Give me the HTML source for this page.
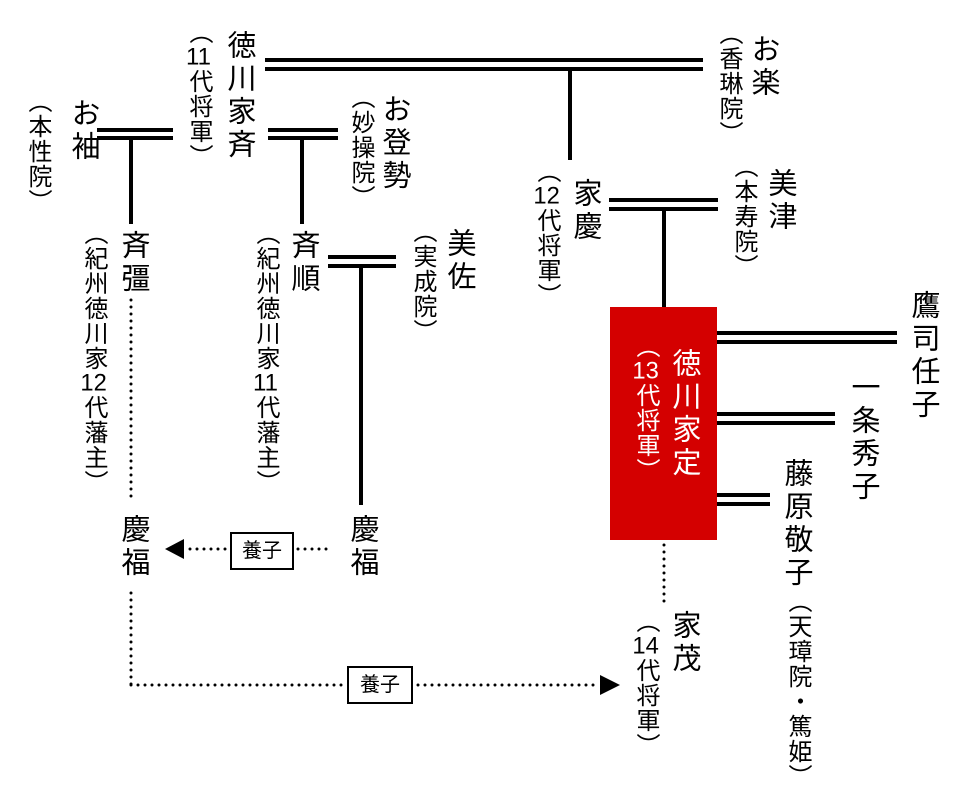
<!DOCTYPE html>
<html><head><meta charset="utf-8"><style>
html,body{margin:0;padding:0;background:#fff;}
#c{position:relative;width:960px;height:800px;overflow:hidden;font-family:"Liberation Sans","Noto Sans CJK JP",sans-serif;color:#000;}
.v{position:absolute;writing-mode:vertical-rl;line-height:1;white-space:nowrap;}
.n{font-size:29px;letter-spacing:4px;}
.s{font-size:24px;letter-spacing:1px;}
.w{color:#fff;}
.t{text-combine-upright:all;}
.box{position:absolute;border:2px solid #000;background:#fff;font-size:20px;line-height:1;display:flex;align-items:center;justify-content:center;font-family:"Liberation Sans","Noto Sans CJK JP",sans-serif;}
svg{position:absolute;left:0;top:0;}
</style></head><body><div id="c">
<svg width="960" height="800">
<g stroke="#000" stroke-width="4" fill="none">
<line x1="265" y1="60" x2="703" y2="60"/><line x1="265" y1="69" x2="703" y2="69"/>
<line x1="570" y1="69" x2="570" y2="160"/>
<line x1="97" y1="130" x2="173" y2="130"/><line x1="97" y1="138" x2="173" y2="138"/>
<line x1="131" y1="138" x2="131" y2="224"/>
<line x1="268" y1="130" x2="338" y2="130"/><line x1="268" y1="138" x2="338" y2="138"/>
<line x1="302" y1="138" x2="302" y2="224"/>
<line x1="328" y1="257" x2="396" y2="257"/><line x1="328" y1="266" x2="396" y2="266"/>
<line x1="361" y1="266" x2="361" y2="505"/>
<line x1="609" y1="200" x2="718" y2="200"/><line x1="609" y1="209" x2="718" y2="209"/>
<line x1="664" y1="209" x2="664" y2="307"/>
<line x1="717" y1="333" x2="897" y2="333"/><line x1="717" y1="342" x2="897" y2="342"/>
<line x1="717" y1="414" x2="835" y2="414"/><line x1="717" y1="423" x2="835" y2="423"/>
<line x1="717" y1="495" x2="770" y2="495"/><line x1="717" y1="504" x2="770" y2="504"/>
</g>
<g stroke="#000" stroke-width="3" stroke-linecap="round" stroke-dasharray="0 7" fill="none">
<line x1="131" y1="300" x2="131" y2="500"/>
<line x1="190" y1="549" x2="228" y2="549"/>
<line x1="298" y1="549" x2="333" y2="549"/>
<line x1="131" y1="593" x2="131" y2="685"/>
<line x1="131" y1="685" x2="345" y2="685"/>
<line x1="418" y1="685" x2="598" y2="685"/>
<line x1="664" y1="545" x2="664" y2="605"/>
</g>
<polygon points="165,549 184,539 184,559" fill="#000"/>
<polygon points="620,685 600,675 600,695" fill="#000"/>
<rect x="610" y="307" width="107" height="233" fill="#d40000"/>
</svg>

<div class="v n" style="left:224px;top:30px">徳川家斉</div>
<div class="v s" style="left:186px;top:20px">（<span class="t">11</span>代将軍）</div>

<div class="v n" style="left:748px;top:34px">お楽</div>
<div class="v s" style="left:716px;top:21px">（香琳院）</div>

<div class="v n" style="left:68px;top:98px">お袖</div>
<div class="v s" style="left:25px;top:89px">（本性院）</div>

<div class="v n" style="left:379px;top:94px">お登勢</div>
<div class="v s" style="left:348px;top:85px">（妙操院）</div>

<div class="v n" style="left:118px;top:230px">斉彊</div>
<div class="v s" style="left:81px;top:221px">（紀州徳川家<span class="t">12</span>代藩主）</div>

<div class="v n" style="left:288px;top:230px">斉順</div>
<div class="v s" style="left:253px;top:221px">（紀州徳川家<span class="t">11</span>代藩主）</div>

<div class="v n" style="left:444px;top:228px">美佐</div>
<div class="v s" style="left:410px;top:219px">（実成院）</div>

<div class="v n" style="left:570px;top:178px">家慶</div>
<div class="v s" style="left:534px;top:159px">（<span class="t">12</span>代将軍）</div>

<div class="v n" style="left:765px;top:168px">美津</div>
<div class="v s" style="left:731px;top:154px">（本寿院）</div>

<div class="v n w" style="left:669px;top:348px">徳川家定</div>
<div class="v s w" style="left:633px;top:334px">（<span class="t">13</span>代将軍）</div>

<div class="v n" style="left:908px;top:290px">鷹司任子</div>
<div class="v n" style="left:848px;top:372px">一条秀子</div>
<div class="v n" style="left:781px;top:458px">藤原敬子</div>
<div class="v s" style="left:785px;top:589px">（天璋院・篤姫）</div>

<div class="v n" style="left:118px;top:514px">慶福</div>
<div class="v n" style="left:347px;top:514px">慶福</div>

<div class="v n" style="left:669px;top:610px">家茂</div>
<div class="v s" style="left:633px;top:609px">（<span class="t">14</span>代将軍）</div>

<div class="box" style="left:230px;top:532px;width:60px;height:34px">養子</div>
<div class="box" style="left:347px;top:666px;width:62px;height:34px">養子</div>
</div></body></html>
